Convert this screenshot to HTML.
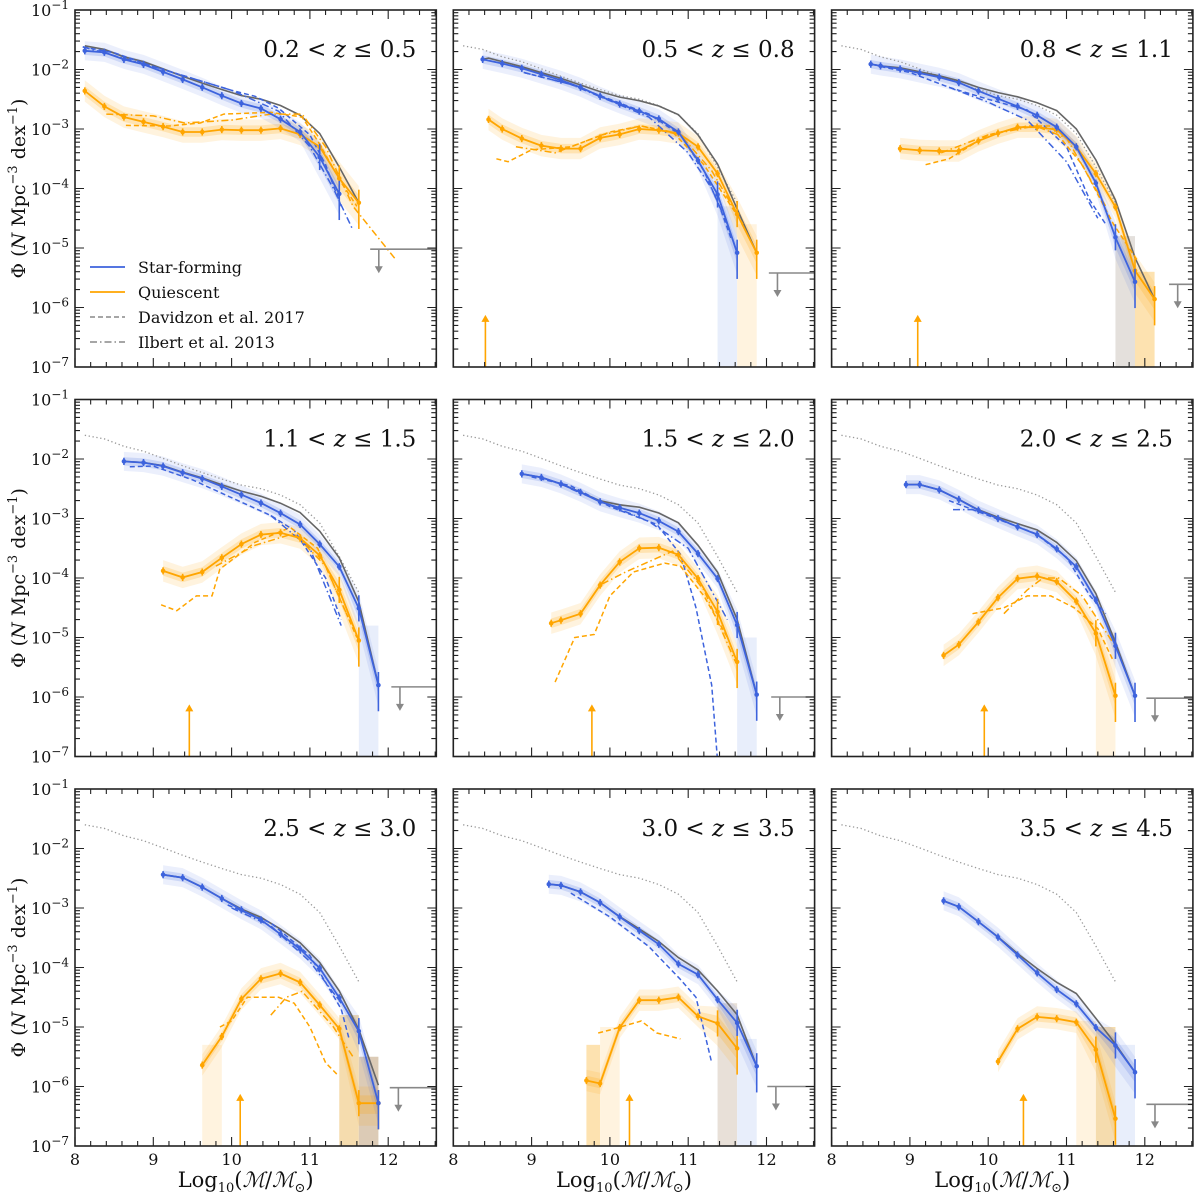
<!DOCTYPE html>
<html><head><meta charset="utf-8"><style>
html,body{margin:0;padding:0;background:#fff}
svg{display:block;font-family:"DejaVu Serif","Liberation Serif",serif}
</style></head><body>
<svg id="fig" width="1200" height="1194" viewBox="0 0 1200 1194" xmlns="http://www.w3.org/2000/svg"></svg>
<script>
const zLabels=[["0.2","0.5"],["0.5","0.8"],["0.8","1.1"],["1.1","1.5"],["1.5","2.0"],["2.0","2.5"],["2.5","3.0"],["3.0","3.5"],["3.5","4.5"]];
const sfMass=[
[8.125,8.375,8.625,8.875,9.125,9.375,9.625,9.875,10.125,10.375,10.625,10.875,11.125,11.375],
[8.375,8.625,8.875,9.125,9.375,9.625,9.875,10.125,10.375,10.625,10.875,11.125,11.375,11.625],
[8.5,8.625,8.875,9.125,9.375,9.625,9.875,10.125,10.375,10.625,10.875,11.125,11.375,11.625,11.875],
[8.625,8.875,9.125,9.375,9.625,9.875,10.125,10.375,10.625,10.875,11.125,11.375,11.625,11.875],
[8.875,9.125,9.375,9.625,9.875,10.125,10.375,10.625,10.875,11.125,11.375,11.625,11.875],
[8.95,9.125,9.375,9.625,9.875,10.125,10.375,10.625,10.875,11.125,11.375,11.625,11.875],
[9.125,9.375,9.625,9.875,10.125,10.375,10.625,10.875,11.125,11.375,11.625,11.875],
[9.22,9.375,9.625,9.875,10.125,10.375,10.625,10.875,11.125,11.375,11.625,11.875],
[9.43,9.625,9.875,10.125,10.375,10.625,10.875,11.125,11.375,11.625,11.875]];
const sfVal=[
[-1.685,-1.712,-1.83,-1.914,-2.04,-2.167,-2.30,-2.44,-2.57,-2.655,-2.835,-3.05,-3.47,-4.09],
[-1.83,-1.90,-1.98,-2.08,-2.18,-2.30,-2.45,-2.58,-2.70,-2.83,-3.05,-3.53,-4.10,-5.08],
[-1.91,-1.94,-1.99,-2.06,-2.13,-2.22,-2.36,-2.49,-2.62,-2.77,-2.97,-3.30,-3.91,-4.82,-5.57],
[-2.04,-2.06,-2.12,-2.23,-2.33,-2.46,-2.60,-2.74,-2.91,-3.10,-3.43,-3.81,-4.51,-5.80],
[-2.25,-2.31,-2.42,-2.56,-2.72,-2.82,-2.91,-3.04,-3.22,-3.59,-4.01,-4.79,-5.96],
[-2.43,-2.43,-2.52,-2.68,-2.86,-3.00,-3.14,-3.27,-3.51,-3.81,-4.37,-5.14,-5.98],
[-2.44,-2.49,-2.65,-2.84,-3.03,-3.20,-3.44,-3.69,-4.01,-4.51,-5.07,-6.28],
[-2.60,-2.62,-2.73,-2.91,-3.15,-3.38,-3.61,-3.94,-4.12,-4.54,-4.93,-5.66],
[-2.88,-2.98,-3.23,-3.49,-3.79,-4.09,-4.37,-4.61,-5.01,-5.31,-5.76]];
const qMass=[
[8.125,8.375,8.625,8.875,9.125,9.375,9.625,9.875,10.125,10.375,10.625,10.875,11.125,11.375,11.625],
[8.45,8.625,8.875,9.125,9.375,9.625,9.875,10.125,10.375,10.625,10.875,11.125,11.375,11.625,11.875],
[8.875,9.125,9.375,9.625,9.875,10.125,10.375,10.625,10.875,11.125,11.375,11.625,11.875,12.125],
[9.125,9.375,9.625,9.875,10.125,10.375,10.625,10.875,11.125,11.375,11.625],
[9.25,9.375,9.625,9.875,10.125,10.375,10.625,10.875,11.125,11.375,11.625],
[9.43,9.625,9.875,10.125,10.375,10.625,10.875,11.125,11.375,11.625],
[9.625,9.875,10.125,10.375,10.625,10.875,11.125,11.375,11.625,11.875],
[9.7,9.875,10.125,10.375,10.625,10.875,11.125,11.375,11.625],
[10.125,10.375,10.625,10.875,11.125,11.375,11.625]];
const qVal=[
[-2.36,-2.62,-2.80,-2.88,-2.96,-3.05,-3.05,-3.01,-3.02,-3.02,-2.99,-3.09,-3.30,-3.83,-4.24],
[-2.84,-3.00,-3.16,-3.28,-3.33,-3.33,-3.15,-3.09,-3.00,-3.02,-3.07,-3.30,-3.75,-4.43,-5.08],
[-3.33,-3.36,-3.37,-3.37,-3.20,-3.07,-2.97,-2.97,-3.01,-3.30,-3.75,-4.31,-5.38,-5.86],
[-3.88,-3.99,-3.90,-3.66,-3.43,-3.27,-3.24,-3.33,-3.62,-4.20,-5.05],
[-4.76,-4.71,-4.60,-4.12,-3.73,-3.50,-3.49,-3.61,-4.01,-4.57,-5.41],
[-5.30,-5.12,-4.74,-4.33,-4.01,-3.97,-4.06,-4.39,-4.93,-5.98],
[-5.64,-5.16,-4.53,-4.19,-4.10,-4.25,-4.63,-5.03,-6.28,-6.28],
[-5.90,-5.95,-5.01,-4.55,-4.55,-4.50,-4.82,-4.94,-5.36],
[-5.58,-5.03,-4.83,-4.86,-4.92,-5.38,-6.54]];
const dSfMass=[[8.1,8.5,9.0,9.5,10.0,10.3,10.6,11.0,11.2,11.4],[8.9,9.5,10.0,10.5,10.9,11.2,11.4,11.55],[8.625,9.0,9.5,10.0,10.5,11.0,11.3,11.5],[8.7,9.0,9.5,10.0,10.5,10.8,11.2,11.4],[9.0,9.5,10.0,10.6,10.9,11.1,11.3,11.4],[9.5,10.0,10.6,11.0,11.3,11.5],[9.95,10.5,11.0,11.4,11.5],[9.5,10.0,10.5,10.9,11.1,11.3],[]];
const dSfVal=[[-1.62,-1.72,-1.95,-2.15,-2.35,-2.45,-2.65,-3.1,-3.6,-4.3],[-2.05,-2.25,-2.5,-2.75,-3.1,-3.7,-4.3,-4.85],[-1.95,-2.05,-2.3,-2.5,-2.68,-3.3,-4.2,-4.6],[-2.13,-2.12,-2.35,-2.65,-2.95,-3.2,-4.0,-4.7],[-2.3,-2.45,-2.8,-3.1,-3.6,-4.5,-5.8,-7.5],[-2.7,-2.95,-3.25,-3.65,-4.3,-4.6],[-2.95,-3.25,-3.8,-4.7,-5.2],[-2.75,-3.15,-3.65,-4.2,-4.5,-5.6],[]];
const dQMass=[[8.65,9.2,9.6,9.9,10.5,10.9,11.1,11.4,11.6],[8.55,8.7,9.0,9.5,10.0,10.4,10.8,11.2,11.6],[9.2,9.5,10.0,10.5,10.8,11.2,11.6,11.9],[9.1,9.3,9.55,9.75,9.85,10.3,10.75,11.1,11.4,11.6],[9.3,9.55,9.8,10.0,10.3,10.7,10.9,11.2,11.5],[9.8,10.2,10.5,10.8,11.1,11.4,11.6],[9.85,10.0,10.2,10.6,10.8,11.0,11.2,11.35],[9.85,10.0,10.4,10.6,10.9],[]];
const dQVal=[[-2.94,-2.95,-2.9,-2.75,-2.72,-2.8,-3.2,-3.9,-4.3],[-3.5,-3.55,-3.35,-3.3,-3.05,-2.95,-3.05,-3.6,-4.4],[-3.6,-3.5,-3.1,-2.95,-2.95,-3.6,-4.6,-5.2],[-4.45,-4.55,-4.3,-4.3,-3.85,-3.4,-3.15,-3.5,-4.4,-5.0],[-5.75,-5.0,-4.95,-4.3,-3.9,-3.75,-3.8,-4.3,-5.0],[-4.6,-4.5,-4.3,-4.3,-4.5,-4.85,-5.4],[-5.0,-4.9,-4.5,-4.5,-4.6,-5.0,-5.6,-5.8],[-5.1,-5.05,-4.9,-5.1,-5.2],[]];
const iSfMass=[[8.1,9.0,10.0,10.6,11.0,11.3,11.55],[8.9,9.5,10.5,11.0,11.3,11.5],[9.5,10.0,10.5,11.0,11.4],[10.5,11.0,11.4],[9.5,10.5,11.0,11.5],[9.55,9.8],[10.0,10.5,11.0,11.4],[],[]];
const iSfVal=[[-1.62,-1.95,-2.35,-2.7,-3.3,-4.0,-4.7],[-2.05,-2.25,-2.8,-3.4,-4.0,-4.6],[-2.3,-2.55,-2.85,-3.55,-4.5],[-2.95,-3.5,-4.8],[-2.5,-3.05,-3.5,-4.7],[-2.85,-2.85],[-3.0,-3.3,-3.9,-4.6],[],[]];
const iQMass=[[8.4,9.0,9.4,10.0,10.5,10.9,11.2,11.55,12.1],[8.8,9.3,9.9,10.4,10.9,11.3,11.7],[9.4,10.0,10.6,11.0,11.5],[9.8,10.3,10.8,11.2,11.5],[9.9,10.2,10.8,11.2,11.6],[10.2,10.5,10.7,10.9,11.2,11.6],[10.5,10.7,10.9,11.3,11.55],[],[]];
const iQVal=[[-2.75,-2.78,-2.9,-2.85,-2.75,-2.75,-3.3,-4.3,-5.2],[-3.3,-3.4,-3.1,-2.95,-3.1,-3.7,-4.6],[-3.4,-3.1,-2.95,-3.15,-4.3],[-3.8,-3.45,-3.25,-3.8,-4.7],[-4.1,-3.9,-3.55,-4.2,-5.4],[-4.6,-4.2,-4.0,-4.0,-4.3,-5.1],[-4.8,-4.5,-4.4,-5.0,-5.5],[],[]];
const ulLevel=[-5.02,-5.42,-5.61,-5.83,-6.0,-6.02,-6.02,-6.0,-6.30];
const ulStart=[11.77,12.03,12.31,12.04,12.06,12.02,12.02,12.01,12.02];
const complMass=[null,8.41,9.10,9.46,9.77,9.95,10.11,10.25,10.45];
const shades=[[],[[11.375,11.625,-4.3,"#e8eefb"],[11.625,11.875,-4.6,"#fff3df"]],[[11.625,11.875,-4.8,"#e4e0dc"],[11.875,12.125,-5.4,"#fde2b0"]],[[11.625,11.875,-4.8,"#e8eefb"]],[[11.625,11.875,-5.0,"#e8eefb"]],[[11.375,11.625,-4.9,"#fff3df"]],[[9.625,9.875,-5.3,"#fff3df"],[11.375,11.625,-4.8,"#f5dcae"],[11.625,11.875,-5.5,"#dccbb6"]],[[9.7,9.875,-5.3,"#fde2b0"],[9.875,10.125,-5.0,"#fff3df"],[11.375,11.625,-4.6,"#e8e0d8"],[11.625,11.875,-5.2,"#e8eefb"]],[[11.125,11.375,-4.9,"#fff3df"],[11.375,11.625,-5.0,"#f5dcae"],[11.625,11.875,-5.3,"#e8eefb"]]];

const NS="http://www.w3.org/2000/svg";
const svg=document.getElementById("fig");
const colL=[75,453.3,831.6], rowT=[10,399.5,789], PW=361.3, PH=357, DEC=59.5, XU=78.3;
const BLUE="#3d63dd", ORANGE="#ffa500";
function mk(tag,attrs,parent){const e=document.createElementNS(NS,tag);for(const k in attrs)e.setAttribute(k,attrs[k]);(parent||svg).appendChild(e);return e;}
function X(p,m){return colL[p%3]+(m-8)*XU;}
function Y(p,v){return rowT[Math.floor(p/3)]+(-1-v)*DEC;}
function interp(ms,vs,m){if(!ms.length||m<ms[0]-1e-6||m>ms[ms.length-1]+1e-6)return null;for(let i=0;i<ms.length-1;i++){if(m>=ms[i]-1e-6&&m<=ms[i+1]+1e-6){const t=(m-ms[i])/(ms[i+1]-ms[i]);return vs[i]+t*(vs[i+1]-vs[i]);}}return vs[ms.length-1];}
function totalOf(p){const ms=[...new Set([...sfMass[p],...qMass[p]])].sort((a,b)=>a-b);const out=[];ms.forEach(m=>{const a=interp(sfMass[p],sfVal[p],m),b=interp(qMass[p],qVal[p],m);let s=0;if(a!==null)s+=Math.pow(10,a);if(b!==null)s+=Math.pow(10,b);if(s>0)out.push([m,Math.log10(s)]);});return out;}
function pts(p,ms,vs){return ms.map((m,i)=>X(p,m).toFixed(1)+","+Y(p,vs[i]).toFixed(1)).join(" ");}
function band(p,ms,vs,w,extra){const up=ms.map((m,i)=>X(p,m).toFixed(1)+","+Y(p,vs[i]+w+(i>=ms.length-2?extra:0)).toFixed(1));const lo=ms.map((m,i)=>X(p,m).toFixed(1)+","+Y(p,vs[i]-w-(i>=ms.length-2?extra*2:0)).toFixed(1)).reverse();return up.concat(lo).join(" ");}
const dotTot=totalOf(0);

for(let p=0;p<9;p++){
  const g=mk("g",{});
  
  
  const cp=mk("clipPath",{id:"cp"+p},g);mk("rect",{x:colL[p%3],y:rowT[Math.floor(p/3)],width:PW,height:PH},cp);
  const pg=mk("g",{"clip-path":"url(#cp"+p+")"},g);
  shades[p].forEach(s=>{const r=mk("rect",{x:X(p,s[0]),y:Y(p,s[2]),width:X(p,s[1])-X(p,s[0]),height:Y(p,-8)-Y(p,s[2]),fill:s[3]},pg);
    
    });
  let b;
  b=mk("polygon",{points:band(p,qMass[p],qVal[p],0.18,0.1),fill:ORANGE,"fill-opacity":0.13},pg);
  
  
  b=mk("polygon",{points:band(p,qMass[p],qVal[p],0.08,0.05),fill:ORANGE,"fill-opacity":0.2},pg);
  
  
  b=mk("polygon",{points:band(p,sfMass[p],sfVal[p],0.16,0.1),fill:BLUE,"fill-opacity":0.1},pg);
  
  
  b=mk("polygon",{points:band(p,sfMass[p],sfVal[p],0.07,0.05),fill:BLUE,"fill-opacity":0.18},pg);
  
  
  if(p>0){const d=mk("polyline",{points:dotTot.map(t=>X(p,t[0]).toFixed(1)+","+Y(p,t[1]).toFixed(1)).join(" "),fill:"none",stroke:"#999","stroke-width":1.3,"stroke-dasharray":"1.3 2.6"},pg);
    
    }
  const tot=totalOf(p);
  const tl=mk("polyline",{points:tot.map(t=>X(p,t[0]).toFixed(1)+","+Y(p,t[1]).toFixed(1)).join(" "),fill:"none",stroke:"#666","stroke-width":1.6},pg);
  
  
  const lits=[[dSfMass,dSfVal,BLUE,"5 3","davidzon-star-forming"],[dQMass,dQVal,ORANGE,"5 3","davidzon-quiescent"],[iSfMass,iSfVal,BLUE,"7 3 1.5 3","ilbert-star-forming"],[iQMass,iQVal,ORANGE,"7 3 1.5 3","ilbert-quiescent"]];
  lits.forEach(L=>{if(!L[0][p].length)return;const l=mk("polyline",{points:pts(p,L[0][p],L[1][p]),fill:"none",stroke:L[2],"stroke-width":1.5,"stroke-dasharray":L[3]},pg);
    
    });
  [[qMass,qVal,ORANGE,"quiescent"],[sfMass,sfVal,BLUE,"star-forming"]].forEach(S=>{
    const ms=S[0][p],vs=S[1][p];
    const l=mk("polyline",{points:pts(p,ms,vs),fill:"none",stroke:S[2],"stroke-width":1.8},pg);
    
    
    ms.forEach((m,i)=>{const e=(i>=ms.length-2)?0.22:0.06;
      const eb=mk("line",{x1:X(p,m),x2:X(p,m),y1:Y(p,vs[i]+e),y2:Y(p,vs[i]-e*(i==ms.length-1?2:1)),stroke:S[2],"stroke-width":1.6},pg);
      
      
      const c=mk("circle",{cx:X(p,m),cy:Y(p,vs[i]),r:2.3,fill:S[2]},pg);
      
      });
  });
  const ux=X(p,ulStart[p]),uy=Y(p,ulLevel[p]);
  const ul=mk("line",{x1:ux,x2:colL[p%3]+PW,y1:uy,y2:uy,stroke:"#888","stroke-width":1.6},pg);
  
  
  const ax=X(p,ulStart[p]+0.11);
  const ua=mk("line",{x1:ax,x2:ax,y1:uy,y2:uy+20,stroke:"#888","stroke-width":1.6},pg);
  
  
  mk("polygon",{points:`${ax-4},${uy+17} ${ax+4},${uy+17} ${ax},${uy+24}`,fill:"#888"},pg);
  if(complMass[p]!==null){const cx=X(p,complMass[p]),yb=rowT[Math.floor(p/3)]+PH,yt=Y(p,-6.14);
    const ca=mk("line",{x1:cx,x2:cx,y1:yb,y2:yt+5,stroke:ORANGE,"stroke-width":1.6},pg);
    
    
    mk("polygon",{points:`${cx-4},${yt+6} ${cx+4},${yt+6} ${cx},${yt-1}`,fill:ORANGE},pg);}
  const L=colL[p%3],T=rowT[Math.floor(p/3)],R=L+PW,B=T+PH;
  const fr=mk("rect",{x:L,y:T,width:PW,height:PH,fill:"none",stroke:"#222","stroke-width":1.6},g);
  
  
  let tp="";
  for(let k=0;k<=23;k++){const m=8+k*0.2;if(m>12.62)break;const x=X(p,m);const major=Math.abs(m-Math.round(m))<1e-6;const len=major?9:5;tp+=`M${x},${B}v${-len}M${x},${T}v${len}`;}
  for(let d=-7;d<=-1;d++){for(let j=1;j<=9;j++){const v=d+Math.log10(j);if(v>-1+1e-9)break;const y=Y(p,v);const len=j==1?9:5;tp+=`M${L},${y}h${len}M${R},${y}h${-len}`;}}
  mk("path",{d:tp,stroke:"#222","stroke-width":1.1,fill:"none"},g);
  const zt=mk("text",{x:R-20,y:T+47,"text-anchor":"end","font-size":23,fill:"#111"},g);
  
  
  zt.innerHTML=`${zLabels[p][0]} &lt; <tspan font-style="italic">z</tspan> ≤  ${zLabels[p][1]}`;
  if(p%3==0){for(let d=-7;d<=-1;d++){const t=mk("text",{x:L-6,y:Y(p,d)+6,"text-anchor":"end","font-size":16,fill:"#111"});
      
      
      t.innerHTML=`10<tspan dy="-7" font-size="12">−${-d}</tspan>`;}
    const yt=mk("text",{transform:`translate(25,${T+PH/2}) rotate(-90)`,"text-anchor":"middle","font-size":19,fill:"#111"});
    
    
    yt.innerHTML=`Φ (<tspan font-style="italic">N</tspan> Mpc<tspan dy="-8" font-size="13">−3</tspan><tspan dy="8"> dex</tspan><tspan dy="-8" font-size="13">−1</tspan><tspan dy="8">)</tspan>`;}
  if(p>=6){for(let m=8;m<=12;m++){const t=mk("text",{x:X(p,m),y:B+19,"text-anchor":"middle","font-size":16,fill:"#111"});
      
      
      t.textContent=m;}
    const xt=mk("text",{x:L+PW/2-10,y:B+41,"text-anchor":"middle","font-size":21,fill:"#111"});
    
    
    xt.innerHTML=`Log<tspan dy="5" font-size="13">10</tspan><tspan dy="-5">(</tspan><tspan font-style="italic">ℳ</tspan>/<tspan font-style="italic">ℳ</tspan><tspan dy="5" font-size="13">⊙</tspan><tspan dy="-5">)</tspan>`;}
}
const leg=[[BLUE,"","Star-forming"],[ORANGE,"","Quiescent"],["#999","5 3","Davidzon et al. 2017"],["#999","7 3 1.5 3","Ilbert et al. 2013"]];
leg.forEach((e,i)=>{const y=267+i*25;
  const l=mk("line",{x1:90,x2:125,y1:y,y2:y,stroke:e[0],"stroke-width":1.8,"stroke-dasharray":e[1]||"none"});
  
  
  const t=mk("text",{x:138,y:y+6,"font-size":16,fill:"#111"});
  
  
  t.textContent=e[2];});
</script>
</body></html>
